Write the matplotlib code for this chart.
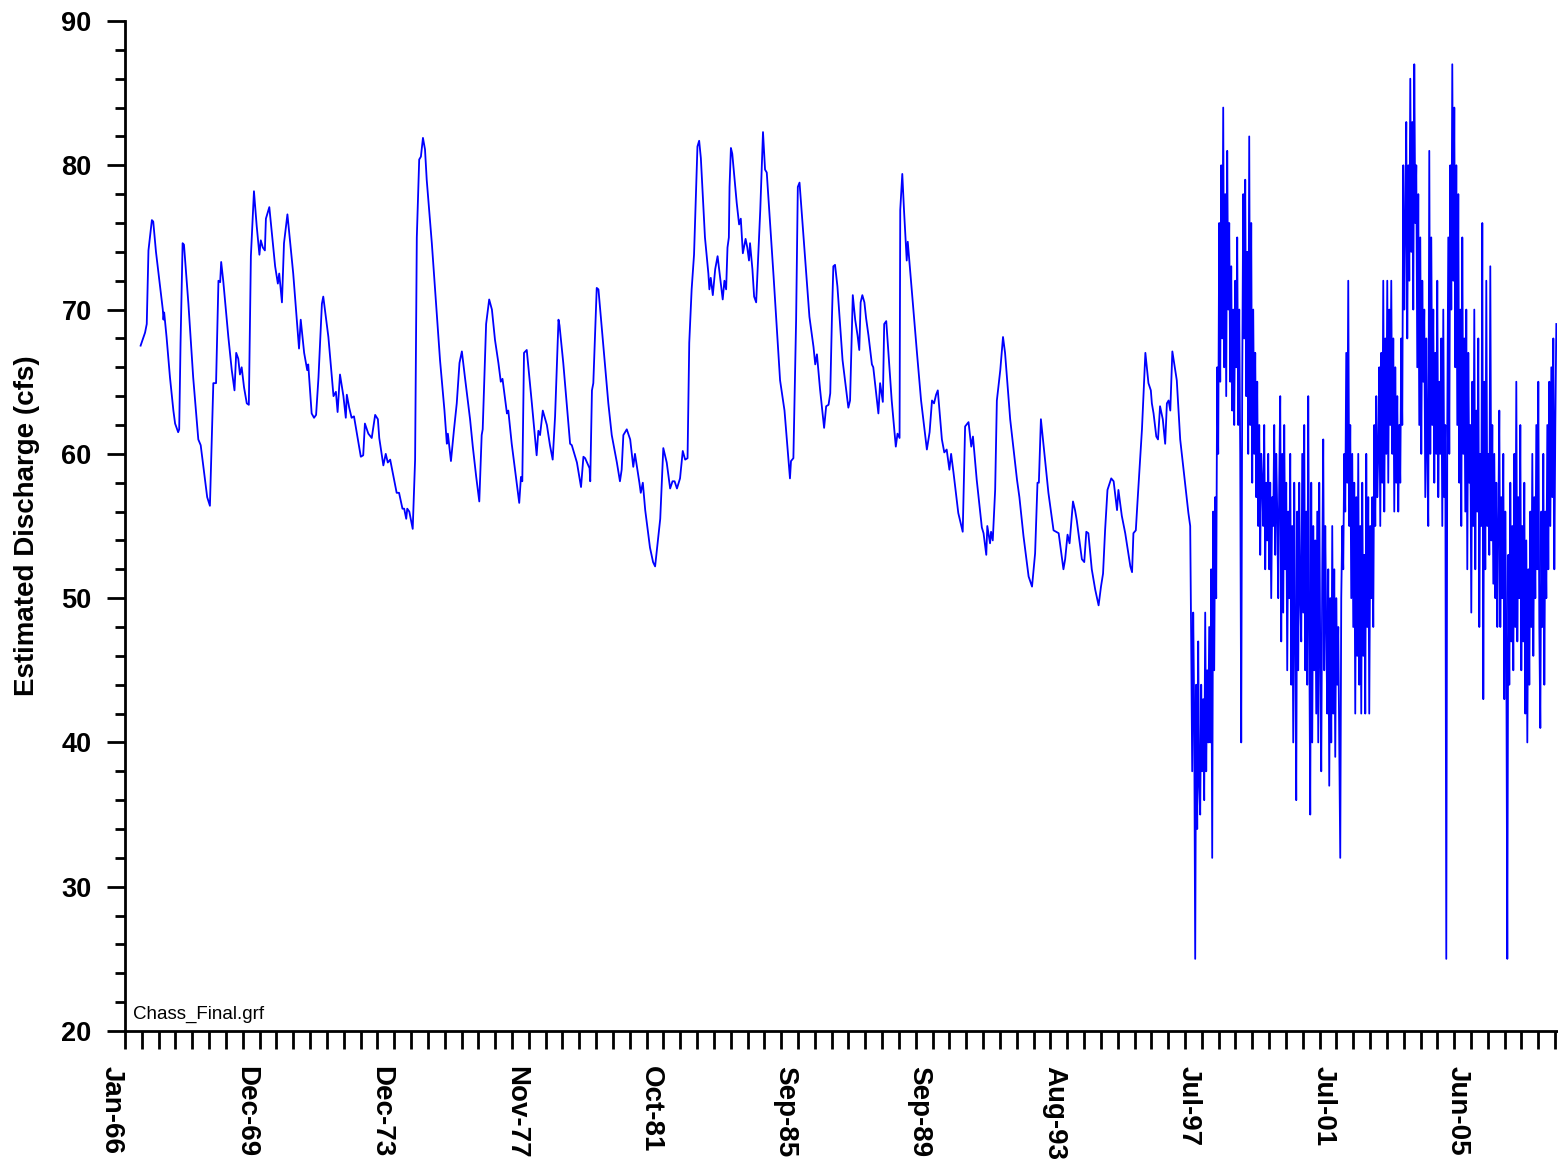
import matplotlib
matplotlib.use('Agg')
import matplotlib.pyplot as plt
import matplotlib.dates as mdates
import matplotlib.ticker as mticker
import numpy as np
import datetime as dt

plt.rcParams['font.family'] = ['Liberation Sans', 'DejaVu Sans']

# smooth part of the record, 1966 - mid 1997 (decimal year, cfs)
years = [1966.49, 1966.62, 1966.67, 1966.72, 1966.82, 1966.86, 1966.94, 1967.14, 1967.16, 1967.18,
         1967.25, 1967.35, 1967.45, 1967.50, 1967.59, 1967.62, 1967.66, 1967.72, 1967.76, 1967.89,
         1968.03, 1968.18, 1968.25, 1968.44, 1968.52, 1968.62, 1968.70, 1968.77, 1968.82, 1968.85,
         1968.91, 1969.06, 1969.16, 1969.24, 1969.29, 1969.35, 1969.40, 1969.45, 1969.52, 1969.60,
         1969.66, 1969.72, 1969.81, 1969.89, 1969.97, 1970.01, 1970.07, 1970.13, 1970.16, 1970.26,
         1970.43, 1970.51, 1970.55, 1970.63, 1970.69, 1970.79, 1970.96, 1971.13, 1971.18, 1971.28,
         1971.37, 1971.40, 1971.50, 1971.57, 1971.63, 1971.70, 1971.80, 1971.84, 1971.99, 1972.14,
         1972.21, 1972.26, 1972.33, 1972.43, 1972.50, 1972.53, 1972.60, 1972.67, 1972.74, 1972.84,
         1972.94, 1973.01, 1973.06, 1973.16, 1973.26, 1973.36, 1973.44, 1973.48, 1973.60, 1973.67,
         1973.73, 1973.80, 1973.99, 1974.06, 1974.16, 1974.21, 1974.27, 1974.30, 1974.36, 1974.46,
         1974.53, 1974.58, 1974.65, 1974.70, 1974.76, 1974.82, 1974.87, 1975.02, 1975.26, 1975.39,
         1975.46, 1975.49, 1975.58, 1975.67, 1975.75, 1975.83, 1975.90, 1975.99, 1976.14, 1976.22,
         1976.32, 1976.41, 1976.48, 1976.51, 1976.61, 1976.70, 1976.78, 1976.87, 1976.97, 1977.04,
         1977.09, 1977.22, 1977.26, 1977.36, 1977.58, 1977.63, 1977.67, 1977.72, 1977.80, 1977.95,
         1978.09, 1978.14, 1978.19, 1978.27, 1978.39, 1978.48, 1978.56, 1978.63, 1978.73, 1978.76,
         1978.87, 1979.07, 1979.12, 1979.27, 1979.39, 1979.46, 1979.51, 1979.64, 1979.66, 1979.71,
         1979.75, 1979.85, 1979.90, 1980.00, 1980.19, 1980.29, 1980.44, 1980.53, 1980.58, 1980.63,
         1980.73, 1980.83, 1980.92, 1980.97, 1981.10, 1981.14, 1981.20, 1981.27, 1981.41, 1981.50,
         1981.56, 1981.62, 1981.71, 1981.80, 1981.90, 1982.00, 1982.07, 1982.13, 1982.20, 1982.29,
         1982.37, 1982.44, 1982.51, 1982.56, 1982.63, 1982.70, 1982.76, 1982.80, 1982.85, 1982.90,
         1983.02, 1983.12, 1983.15, 1983.19, 1983.25, 1983.32, 1983.39, 1983.46, 1983.54, 1983.59,
         1983.64, 1983.68, 1983.72, 1983.74, 1983.78, 1983.82, 1983.95, 1984.02, 1984.07, 1984.13,
         1984.21, 1984.26, 1984.31, 1984.34, 1984.41, 1984.46, 1984.52, 1984.64, 1984.72, 1984.78,
         1984.83, 1985.03, 1985.22, 1985.35, 1985.51, 1985.54, 1985.61, 1985.69, 1985.74, 1985.79,
         1985.90, 1986.08, 1986.20, 1986.25, 1986.30, 1986.39, 1986.51, 1986.57, 1986.64, 1986.69,
         1986.74, 1986.78, 1986.83, 1986.90, 1987.05, 1987.18, 1987.22, 1987.27, 1987.35, 1987.42,
         1987.49, 1987.54, 1987.58, 1987.63, 1987.69, 1987.74, 1987.81, 1987.91, 1987.95, 1988.10,
         1988.15, 1988.23, 1988.27, 1988.33, 1988.49, 1988.61, 1988.66, 1988.72, 1988.74, 1988.80,
         1988.85, 1988.93, 1988.96, 1989.13, 1989.23, 1989.35, 1989.52, 1989.60, 1989.67, 1989.73,
         1989.79, 1989.84, 1989.96, 1990.03, 1990.10, 1990.18, 1990.23, 1990.30, 1990.44, 1990.57,
         1990.61, 1990.64, 1990.74, 1990.82, 1990.87, 1990.98, 1991.13, 1991.18, 1991.26, 1991.29,
         1991.37, 1991.40, 1991.45, 1991.52, 1991.57, 1991.67, 1991.75, 1991.81, 1991.96, 1992.16,
         1992.23, 1992.35, 1992.50, 1992.60, 1992.64, 1992.69, 1992.76, 1992.80, 1992.86, 1992.96,
         1993.08, 1993.23, 1993.38, 1993.47, 1993.52, 1993.57, 1993.64, 1993.70, 1993.80, 1993.86,
         1993.91, 1994.06, 1994.13, 1994.19, 1994.25, 1994.35, 1994.45, 1994.55, 1994.62, 1994.68,
         1994.74, 1994.81, 1994.92, 1994.99, 1995.09, 1995.13, 1995.23, 1995.33, 1995.48, 1995.53,
         1995.57, 1995.64, 1995.69, 1995.82, 1995.92, 1996.01, 1996.08, 1996.11, 1996.16, 1996.24,
         1996.29, 1996.35, 1996.43, 1996.50, 1996.55, 1996.60, 1996.65, 1996.71, 1996.84, 1996.94,
         1997.04, 1997.18]
flow = [67.5, 68.4, 69.0, 74.1, 76.2, 76.1, 74.0, 70.0, 69.3, 69.8,
        68.1, 65.3, 63.0, 62.1, 61.5, 61.7, 67.7, 74.6, 74.5, 70.4,
        65.3, 61.0, 60.6, 57.0, 56.4, 64.9, 64.9, 72.0, 71.9, 73.3,
        72.0, 68.1, 65.8, 64.4, 67.0, 66.6, 65.5, 66.0, 64.6, 63.5,
        63.4, 73.7, 78.2, 75.8, 73.8, 74.8, 74.3, 74.1, 76.3, 77.1,
        73.0, 71.8, 72.5, 70.5, 74.6, 76.6, 72.5, 67.3, 69.3, 67.0,
        65.8, 66.2, 62.8, 62.5, 62.7, 65.3, 70.4, 70.9, 68.1, 64.0,
        64.3, 62.9, 65.5, 64.0, 62.5, 64.1, 63.2, 62.5, 62.6, 61.2,
        59.8, 59.9, 62.1, 61.4, 61.1, 62.7, 62.4, 61.1, 59.2, 60.0,
        59.4, 59.6, 57.3, 57.3, 56.2, 56.2, 55.5, 56.2, 56.0, 54.8,
        59.6, 75.0, 80.4, 80.6, 81.9, 81.1, 79.0, 74.6, 66.5, 63.0,
        60.7, 61.4, 59.5, 61.7, 63.5, 66.3, 67.1, 65.3, 62.4, 60.5,
        58.4, 56.7, 61.3, 61.7, 69.0, 70.7, 70.0, 67.9, 66.3, 65.0,
        65.2, 62.8, 63.0, 60.7, 56.6, 58.4, 58.1, 67.0, 67.2, 63.5,
        59.9, 61.6, 61.3, 63.0, 62.0, 60.6, 59.6, 62.6, 69.3, 68.9,
        66.3, 60.7, 60.6, 59.4, 57.7, 59.8, 59.7, 59.0, 58.1, 64.4,
        64.9, 71.5, 71.4, 68.7, 63.5, 61.3, 59.4, 58.1, 58.9, 61.3,
        61.7, 61.0, 59.1, 60.0, 58.0, 57.3, 58.0, 56.1, 53.5, 52.5,
        52.2, 53.5, 55.5, 60.4, 59.4, 57.6, 58.1, 58.1, 57.6, 58.3,
        60.2, 59.6, 59.7, 67.7, 71.4, 73.8, 78.3, 81.3, 81.7, 80.5,
        75.0, 72.5, 71.4, 72.2, 71.0, 72.8, 73.7, 72.3, 70.7, 72.0,
        71.4, 74.3, 75.0, 78.5, 81.2, 80.8, 77.4, 75.9, 76.3, 73.9,
        74.9, 74.3, 73.4, 74.6, 72.8, 70.9, 70.5, 76.9, 82.3, 79.7,
        79.5, 72.3, 65.1, 63.0, 58.3, 59.5, 59.7, 69.3, 78.5, 78.8,
        75.3, 69.5, 67.4, 66.2, 66.9, 64.5, 61.8, 63.3, 63.4, 64.2,
        69.5, 73.0, 73.1, 71.6, 66.5, 64.0, 63.2, 63.7, 71.0, 69.3,
        68.2, 67.2, 70.5, 71.0, 70.5, 69.4, 68.2, 66.2, 66.0, 62.8,
        64.9, 63.6, 69.0, 69.2, 63.7, 60.5, 61.4, 61.1, 76.9, 79.4,
        76.9, 73.4, 74.7, 69.8, 67.0, 63.7, 60.3, 61.5, 63.7, 63.5,
        64.1, 64.4, 61.0, 60.1, 60.3, 58.9, 60.0, 58.7, 55.9, 54.6,
        58.9, 61.9, 62.2, 60.5, 61.2, 58.2, 54.9, 54.5, 53.0, 55.0,
        53.8, 54.6, 54.0, 57.5, 63.7, 65.8, 68.1, 67.0, 62.4, 58.2,
        57.0, 54.3, 51.5, 50.8, 51.8, 53.1, 58.0, 58.0, 62.4, 60.1,
        57.3, 54.7, 54.5, 52.9, 52.0, 52.7, 54.4, 53.8, 56.7, 56.1,
        55.4, 52.7, 52.5, 54.6, 54.5, 52.0, 50.6, 49.5, 50.8, 51.7,
        54.7, 57.5, 58.3, 58.1, 56.1, 57.5, 55.7, 54.5, 52.2, 51.8,
        54.5, 54.7, 56.7, 61.7, 67.0, 64.9, 64.4, 63.5, 62.8, 61.2,
        61.0, 63.3, 62.4, 60.7, 63.5, 63.7, 63.0, 67.1, 65.1, 61.0,
        58.9, 55.9]

# noisy part of the record, mid 1997 onwards, regular sampling (~11 days)
noisy_start = 1997.233
noisy_step = 0.0293
noisy_flow = [55, 47, 38, 49, 42, 25, 44, 34, 47, 37,
              35, 44, 38, 43, 36, 49, 38, 45, 40, 48,
              40, 52, 32, 56, 45, 57, 50, 66, 60, 76,
              65, 80, 68, 84, 66, 78, 64, 81, 70, 76,
              65, 73, 63, 70, 62, 72, 66, 75, 62, 70,
              60, 40, 65, 78, 68, 79, 64, 74, 60, 82,
              62, 76, 58, 70, 60, 67, 57, 65, 55, 62,
              53, 60, 58, 55, 62, 52, 58, 54, 60, 52,
              58, 50, 57, 55, 62, 53, 60, 56, 50, 58,
              64, 47, 60, 49, 62, 52, 58, 45, 56, 50,
              60, 44, 55, 40, 58, 48, 36, 56, 45, 58,
              50, 47, 60, 49, 62, 45, 56, 44, 64, 48,
              35, 58, 40, 55, 45, 54, 42, 56, 40, 58,
              46, 38, 52, 61, 45, 55, 48, 42, 52, 37,
              50, 40, 55, 42, 52, 39, 50, 44, 48, 40,
              32, 50, 55, 52, 60, 56, 67, 58, 72, 55,
              62, 50, 60, 48, 58, 42, 57, 46, 60, 44,
              55, 42, 58, 46, 53, 42, 60, 48, 57, 42,
              55, 50, 57, 48, 62, 55, 64, 57, 60, 66,
              55, 67, 58, 72, 56, 68, 60, 72, 58, 70,
              62, 72, 60, 68, 56, 66, 58, 64, 56, 62,
              58, 68, 62, 80, 70, 76, 83, 68, 80, 72,
              86, 74, 83, 70, 87, 76, 80, 66, 78, 62,
              75, 60, 72, 65, 70, 57, 68, 60, 55, 81,
              60, 75, 62, 70, 58, 67, 60, 72, 57, 65,
              60, 68, 55, 70, 57, 62, 25, 62, 75, 60,
              80, 70, 87, 72, 84, 66, 80, 62, 78, 58,
              70, 55, 75, 60, 68, 56, 70, 52, 67, 58,
              62, 49, 65, 55, 70, 52, 63, 56, 68, 48,
              60, 55, 76, 43, 65, 52, 72, 55, 60, 53,
              73, 54, 62, 51, 60, 50, 58, 48, 55, 63,
              48, 57, 50, 60, 43, 56, 47, 25, 53, 44,
              58, 47, 55, 45, 60, 48, 65, 47, 57, 50,
              62, 45, 55, 47, 58, 42, 54, 40, 52, 44,
              56, 48, 60, 46, 57, 50, 62, 52, 65, 48,
              41, 56, 48, 60, 44, 56, 50, 62, 52, 65,
              55, 66, 57, 68, 52, 62, 69]

# x axis: tick every 180 days from 13 Jan 1966, label every 8th tick
axis_start = dt.datetime(1966, 1, 13)
tick_days = 180
n_ticks = 86
y_ticks = [20, 30, 40, 50, 60, 70, 80, 90]


def yr2num(y):
    return mdates.date2num(dt.datetime(1966, 1, 1)) + (np.asarray(y, dtype=float) - 1966.0) * 365.25


noisy_years = noisy_start + noisy_step * np.arange(len(noisy_flow))
x_all = np.concatenate([yr2num(years), yr2num(noisy_years)])
y_all = np.concatenate([flow, noisy_flow])

fig = plt.figure(figsize=(15.58, 11.64), dpi=100)
ax = fig.add_axes([125 / 1558, 133 / 1164, 1432 / 1558, 1010 / 1164])

ax.plot(x_all, y_all, color='#0000ff', lw=1.3)

x0 = mdates.date2num(axis_start)
ticks = x0 + tick_days * np.arange(n_ticks)
labels = [mdates.num2date(t).strftime('%b-%y') if i % 8 == 0 else '' for i, t in enumerate(ticks)]
ax.set_xlim(x0, x0 + 15320)
ax.xaxis.set_major_locator(mticker.FixedLocator(ticks))
ax.xaxis.set_major_formatter(mticker.FixedFormatter(labels))
ax.set_ylim(20, 90)
ax.set_yticks(y_ticks)
ax.yaxis.set_minor_locator(mticker.MultipleLocator(2))

for s in ['top', 'right']:
    ax.spines[s].set_visible(False)
for s in ['left', 'bottom']:
    ax.spines[s].set_linewidth(2)

ax.tick_params(axis='x', which='major', direction='out', length=13, width=2, pad=12)
ax.tick_params(axis='y', which='major', direction='out', length=13, width=2, pad=11)
ax.tick_params(axis='y', which='minor', direction='out', length=7, width=2)

for lab in ax.get_xticklabels():
    lab.set_rotation(270)
    lab.set_ha('right')
    lab.set_va('top')
    lab.set_fontsize(20)
    lab.set_fontweight('bold')
for lab in ax.get_yticklabels():
    lab.set_fontsize(19.5)
    lab.set_fontweight('bold')

ax.set_ylabel('Estimated Discharge (cfs)', fontsize=20, fontweight='bold')
ax.yaxis.set_label_coords(-0.0594, 0.5)

ax.text(0.0056, 0.008, 'Chass_Final.grf', transform=ax.transAxes, fontsize=13.5,
        ha='left', va='bottom')

fig.savefig('out.png', dpi=100)
